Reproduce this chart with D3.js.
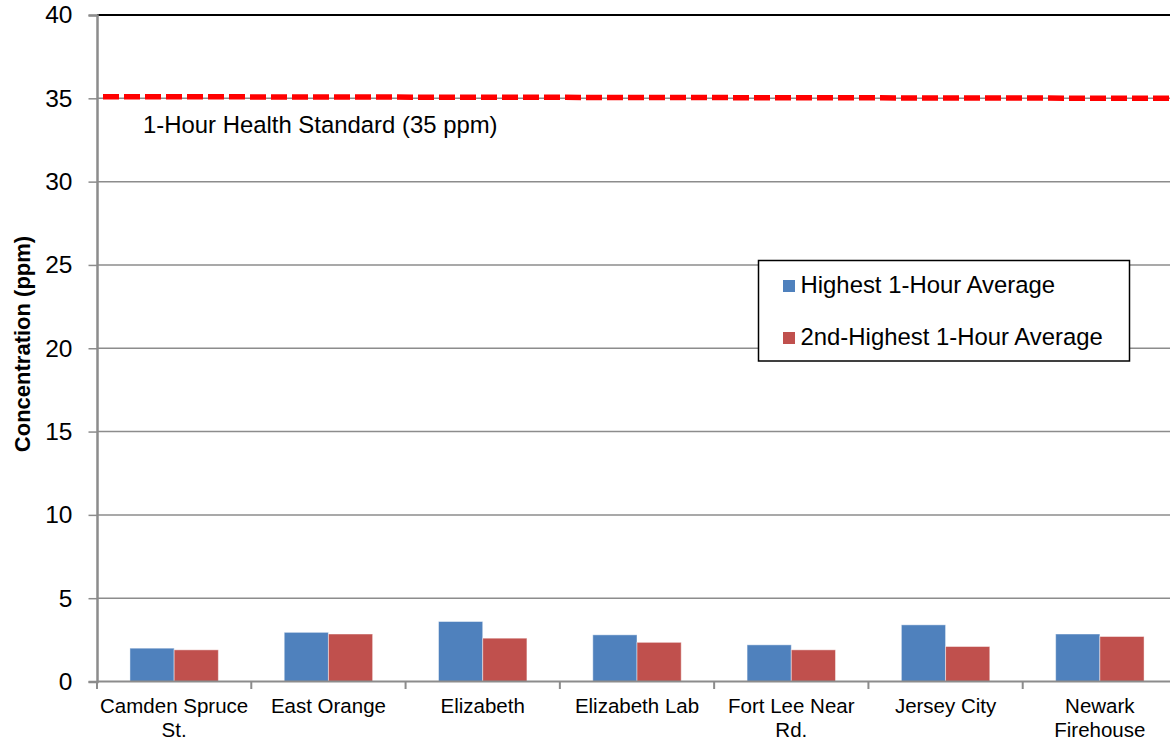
<!DOCTYPE html>
<html>
<head>
<meta charset="utf-8">
<script src="https://cdn.jsdelivr.net/npm/d3@7/dist/d3.min.js"></script>
<style>
  html, body { margin: 0; padding: 0; background: #fff; }
  svg { display: block; font-family: "Liberation Sans", Arial, sans-serif; }
</style>
</head>
<body>
<svg id="chart" width="1170" height="744"></svg>
<script>
// ---- Data ----
const categories = ["Camden Spruce St.", "East Orange", "Elizabeth", "Elizabeth Lab", "Fort Lee Near Rd.", "Jersey City", "Newark Firehouse"];
const categoryLines = [["Camden Spruce", "St."], ["East Orange"], ["Elizabeth"], ["Elizabeth Lab"], ["Fort Lee Near", "Rd."], ["Jersey City"], ["Newark", "Firehouse"]];
const seriesNames = ["Highest 1-Hour Average", "2nd-Highest 1-Hour Average"];
const highest = [2.0, 2.95, 3.6, 2.8, 2.2, 3.4, 2.85];
const secondHighest = [1.9, 2.85, 2.6, 2.35, 1.9, 2.1, 2.7];
const yTicks = [0, 5, 10, 15, 20, 25, 30, 35, 40];
const standardValue = [35.1, 35.0]; // drawn line, left end / right end
const standardLabel = "1-Hour Health Standard (35 ppm)";
const yTitle = "Concentration (ppm)";
const colors = ["#4F81BD", "#C0504D"];

(function () {
// ---- Layout ----
const svg = d3.select("#chart");
const pLeft = 97, pRight = 1177, pTop = 15, pBottom = 681.5;

const x = d3.scaleBand().domain(categories).range([pLeft, pRight])
  .paddingInner(0.427).paddingOuter(0.2135);
const step = x.step();
const xs = d3.scaleBand().domain([0, 1]).range([0, x.bandwidth()]);
const y = d3.scaleLinear().domain([0, 40]).range([pBottom, pTop]);

// gridlines
svg.append("g").selectAll("line").data(yTicks.filter(d => d > 0 && d < 40)).join("line")
  .attr("x1", pLeft).attr("x2", 1170)
  .attr("y1", d => y(d)).attr("y2", d => y(d))
  .attr("stroke", "#8c8c8c").attr("stroke-width", 1.5);

// top border
svg.append("line").attr("x1", pLeft).attr("x2", 1170).attr("y1", y(40)).attr("y2", y(40))
  .attr("stroke", "#000").attr("stroke-width", 2);

// y axis
const yAxis = svg.append("g").attr("transform", `translate(${pLeft},0)`)
  .call(d3.axisLeft(y).tickValues(yTicks).tickSize(8.5).tickPadding(16).tickFormat(d3.format("d")));
yAxis.select(".domain").attr("stroke", "#8c8c8c").attr("stroke-width", 2.5);
yAxis.selectAll(".tick line").attr("stroke", "#8c8c8c").attr("stroke-width", 1.5);
yAxis.selectAll(".tick text").attr("font-size", 24.5).attr("fill", "#000")
  .attr("font-family", "Liberation Sans, Arial, sans-serif");

// bars
const seriesData = [highest, secondHighest];
const groups = svg.append("g").selectAll("g").data(categories).join("g")
  .attr("transform", d => `translate(${x(d)},0)`);
groups.selectAll("rect").data((d, i) => seriesData.map((s, k) => ({k, v: s[i]}))).join("rect")
  .attr("x", d => xs(d.k))
  .attr("width", xs.bandwidth())
  .attr("y", d => y(d.v))
  .attr("height", d => y(0) - y(d.v))
  .attr("fill", d => colors[d.k])
  .attr("stroke", "rgba(255,255,255,0.45)").attr("stroke-width", 1);

// x axis baseline and ticks
svg.append("line").attr("x1", pLeft).attr("x2", 1170).attr("y1", y(0)).attr("y2", y(0))
  .attr("stroke", "#8c8c8c").attr("stroke-width", 2);
const boundaries = categories.map((c) => x(c) - x.paddingOuter() * step).concat([pRight]);
svg.append("g").selectAll("line").data(boundaries).join("line")
  .attr("x1", d => d).attr("x2", d => d)
  .attr("y1", y(0)).attr("y2", y(0) + 7.5)
  .attr("stroke", "#8c8c8c").attr("stroke-width", 2);

// x labels
const xl = svg.append("g").selectAll("text").data(categories).join("text")
  .attr("x", d => x(d) + x.bandwidth() / 2)
  .attr("y", 713)
  .attr("text-anchor", "middle")
  .attr("font-size", 20.5).attr("fill", "#000");
xl.each(function (d, i) {
  const t = d3.select(this);
  categoryLines[i].forEach((ln, j) => {
    t.append("tspan").attr("x", x(d) + x.bandwidth() / 2).attr("dy", j === 0 ? 0 : 23.5).text(ln);
  });
});

// standard line
svg.append("line")
  .attr("x1", pLeft + 6).attr("x2", 1170)
  .attr("y1", y(standardValue[0])).attr("y2", y(standardValue[1]))
  .attr("stroke", "#FF0000").attr("stroke-width", 5.5)
  .attr("stroke-dasharray", "16,5");
svg.append("text").attr("x", 143).attr("y", 133)
  .attr("font-size", 23.9).attr("fill", "#000").text(standardLabel);

// y title
svg.append("text")
  .attr("transform", `translate(30,344) rotate(-90)`)
  .attr("text-anchor", "middle")
  .attr("font-size", 22).attr("font-weight", "bold").attr("fill", "#000")
  .text(yTitle);

// legend
const lg = svg.append("g");
lg.append("rect").attr("x", 758.5).attr("y", 260.5).attr("width", 371).attr("height", 100.5)
  .attr("fill", "#fff").attr("stroke", "#000").attr("stroke-width", 1.5);
seriesNames.forEach((name, i) => {
  lg.append("rect").attr("x", 783).attr("y", 280 + i * 52).attr("width", 12).attr("height", 12)
    .attr("fill", colors[i]);
  lg.append("text").attr("x", 800.5).attr("y", 293 + i * 51.5)
    .attr("font-size", 23.9).attr("fill", "#000").text(name);
});
})();
</script>
</body>
</html>
